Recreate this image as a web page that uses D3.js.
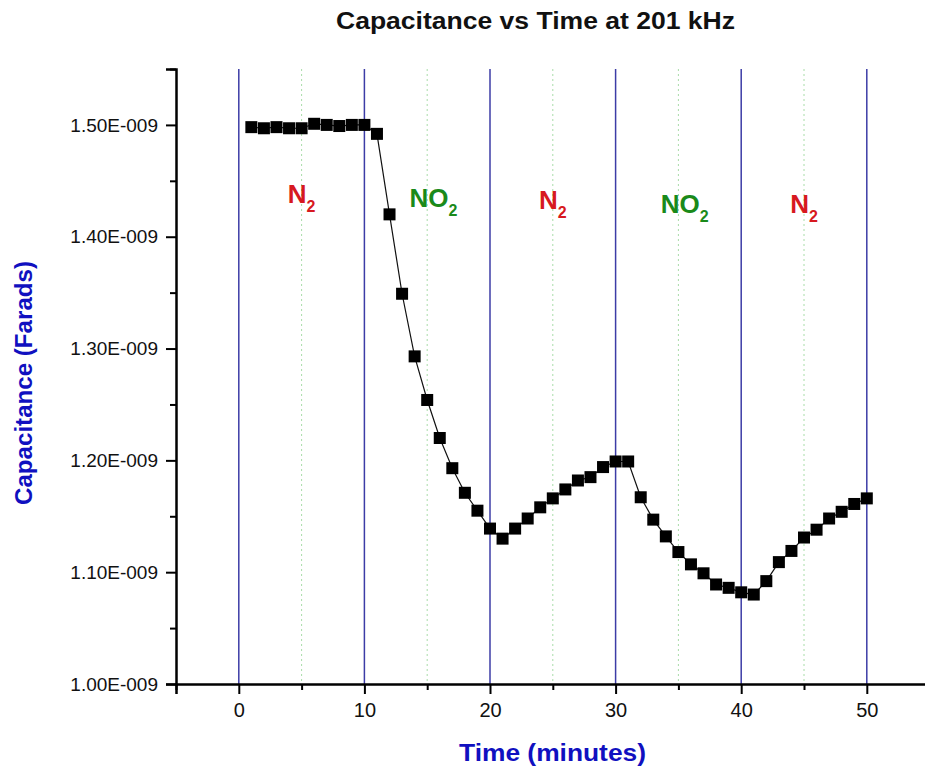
<!DOCTYPE html>
<html>
<head>
<meta charset="utf-8">
<script src="https://cdn.jsdelivr.net/npm/d3@7/dist/d3.min.js"></script>
<style>
  html, body { margin: 0; padding: 0; background: #fff; }
  svg { display: block; font-family: "Liberation Sans", Arial, sans-serif; }
</style>
</head>
<body>
<svg id="chart" width="925" height="771"></svg>
<script>
// Measured capacitance, one reading per minute
const times = d3.range(1, 51);
const capacitance = [
  1.498e-9, 1.497e-9, 1.498e-9, 1.497e-9, 1.497e-9, 1.501e-9, 1.500e-9, 1.499e-9, 1.500e-9, 1.500e-9,
  1.492e-9, 1.420e-9, 1.349e-9, 1.293e-9, 1.254e-9, 1.220e-9, 1.193e-9, 1.171e-9, 1.155e-9, 1.139e-9,
  1.130e-9, 1.139e-9, 1.148e-9, 1.158e-9, 1.166e-9, 1.174e-9, 1.182e-9, 1.185e-9, 1.194e-9, 1.199e-9,
  1.199e-9, 1.167e-9, 1.147e-9, 1.132e-9, 1.118e-9, 1.107e-9, 1.099e-9, 1.089e-9, 1.086e-9, 1.082e-9,
  1.080e-9, 1.092e-9, 1.109e-9, 1.119e-9, 1.131e-9, 1.138e-9, 1.148e-9, 1.154e-9, 1.161e-9, 1.166e-9
];

// Gas switching boundaries and mid-interval guides
const switchTimes = [0, 10, 20, 30, 40, 50];
const guideTimes = [5, 15, 25, 35, 45];

// Gas phase annotations
const gasNames = ["N", "NO", "N", "NO", "N"];
const gasTimes = [5, 15.5, 25, 35.5, 45];
const gasColors = ["#d71920", "#1a8a1a", "#d71920", "#1a8a1a", "#d71920"];

const xMajorTicks = [0, 10, 20, 30, 40, 50];
const xMinorTicks = [-5, 5, 15, 25, 35, 45, 55];
const yMajorTicks = [1.0e-9, 1.1e-9, 1.2e-9, 1.3e-9, 1.4e-9, 1.5e-9];
const yMinorTicks = [1.05e-9, 1.15e-9, 1.25e-9, 1.35e-9, 1.45e-9, 1.55e-9];

const svg = d3.select("#chart");

const x = d3.scaleLinear().domain([-5, 55]).range([176, 929.6]);
const y = d3.scaleLinear().domain([1.0e-9, 1.55e-9]).range([684, 69]);

const fmtY = v => (v * 1e9).toFixed(2) + "E-009";

// Vertical guides
svg.append("g").selectAll("line").data(guideTimes).join("line")
  .attr("x1", d => x(d)).attr("x2", d => x(d))
  .attr("y1", y.range()[1]).attr("y2", y.range()[0])
  .attr("stroke", "#a8dca8").attr("stroke-width", 1)
  .attr("stroke-dasharray", "2,3");

svg.append("g").selectAll("line").data(switchTimes).join("line")
  .attr("x1", d => x(d)).attr("x2", d => x(d))
  .attr("y1", y.range()[1]).attr("y2", y.range()[0])
  .attr("stroke", "#3c3ca6").attr("stroke-width", 1.5);

// Axes
const xAxis = svg.append("g").attr("transform", `translate(0,${y.range()[0]})`)
  .call(d3.axisBottom(x).tickValues(xMajorTicks).tickSize(10).tickPadding(9).tickFormat(d3.format("d")));
svg.append("g").attr("transform", `translate(0,${y.range()[0]})`)
  .call(d3.axisBottom(x).tickValues(xMinorTicks).tickSize(6).tickFormat(""))
  .select(".domain").remove();

const yAxis = svg.append("g").attr("transform", `translate(${x.range()[0]},0)`)
  .call(d3.axisLeft(y).tickValues(yMajorTicks).tickSize(10).tickPadding(8).tickFormat(fmtY));
svg.append("g").attr("transform", `translate(${x.range()[0]},0)`)
  .call(d3.axisLeft(y).tickValues(yMinorTicks).tickSize(6).tickFormat(""))
  .select(".domain").remove();

svg.selectAll(".domain").attr("stroke", "#000").attr("stroke-width", 2.5);
svg.selectAll(".tick line").attr("stroke", "#000").attr("stroke-width", 2);
xAxis.selectAll(".tick text").attr("font-size", 20).attr("fill", "#111")
  .attr("font-family", "'Liberation Sans', Arial, sans-serif");
yAxis.selectAll(".tick text").attr("font-size", 19).attr("fill", "#111")
  .attr("font-family", "'Liberation Sans', Arial, sans-serif");

// Data line and square markers
const line = d3.line().x((d, i) => x(times[i])).y(d => y(d));
svg.append("path").datum(capacitance)
  .attr("d", line).attr("fill", "none")
  .attr("stroke", "#111").attr("stroke-width", 1.2);

const ms = 12;
svg.append("g").selectAll("rect").data(capacitance).join("rect")
  .attr("x", (d, i) => x(times[i]) - ms / 2)
  .attr("y", d => y(d) - ms / 2)
  .attr("width", ms).attr("height", ms)
  .attr("fill", "#000");

// Gas labels with subscript 2
const gasBaselines = [203, 207, 209, 213, 213];
gasNames.forEach((name, i) => {
  const t = svg.append("text")
    .attr("x", x(gasTimes[i])).attr("y", gasBaselines[i])
    .attr("text-anchor", "middle")
    .attr("font-weight", "bold").attr("font-size", 26)
    .attr("fill", gasColors[i]);
  t.append("tspan").text(name);
  t.append("tspan").attr("font-size", 16).attr("dy", 9).text("2");
});

// Title and axis titles
svg.append("text")
  .attr("x", 535.5).attr("y", 29)
  .attr("text-anchor", "middle")
  .attr("font-weight", "bold").attr("font-size", 23)
  .attr("textLength", 399).attr("lengthAdjust", "spacingAndGlyphs")
  .attr("fill", "#111")
  .text("Capacitance vs Time at 201 kHz");

svg.append("text")
  .attr("x", 552.5).attr("y", 761)
  .attr("text-anchor", "middle")
  .attr("font-weight", "bold").attr("font-size", 24)
  .attr("textLength", 187).attr("lengthAdjust", "spacingAndGlyphs")
  .attr("fill", "#1010c0")
  .text("Time (minutes)");

svg.append("text")
  .attr("transform", "translate(32,383) rotate(-90)")
  .attr("text-anchor", "middle")
  .attr("font-weight", "bold").attr("font-size", 23)
  .attr("textLength", 244).attr("lengthAdjust", "spacingAndGlyphs")
  .attr("fill", "#1010c0")
  .text("Capacitance (Farads)");
</script>
</body>
</html>
